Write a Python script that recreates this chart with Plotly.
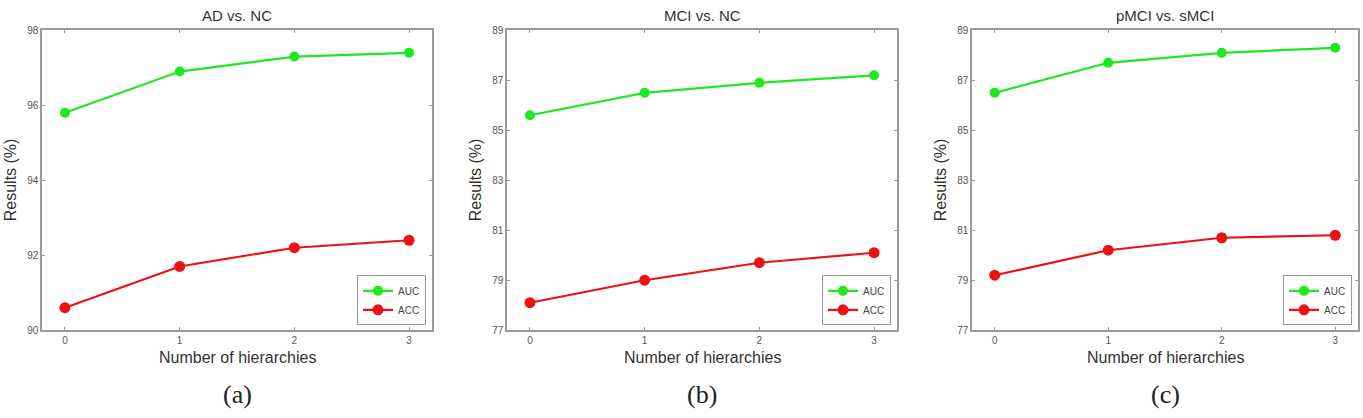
import plotly.graph_objects as go

W, H = 1363, 418

hierarchies = [0, 1, 2, 3]
titles = ["AD vs. NC", "MCI vs. NC", "pMCI vs. sMCI"]
panel_labels = ["(a)", "(b)", "(c)"]
auc_ad = [95.8, 96.9, 97.3, 97.4]
acc_ad = [90.6, 91.7, 92.2, 92.4]
auc_mci = [85.6, 86.5, 86.9, 87.2]
acc_mci = [78.1, 79.0, 79.7, 80.1]
auc_pmci = [86.5, 87.7, 88.1, 88.3]
acc_pmci = [79.2, 80.2, 80.7, 80.8]
y_ranges = [[90, 98], [77, 89], [77, 89]]
y_ticks = [[90, 92, 94, 96, 98], [77, 79, 81, 83, 85, 87, 89], [77, 79, 81, 83, 85, 87, 89]]

auc_all = [auc_ad, auc_mci, auc_pmci]
acc_all = [acc_ad, acc_mci, acc_pmci]

# pixel layout
px_left = [42, 507, 972]
px_right = [432, 897, 1358]
px_top, px_bottom = 26, 334
ytitle_x = [10, 475, 940]

GREEN = "#1ee81e"
RED = "#ee1111"
AXC = "#9a9a9a"

fig = go.Figure()
annotations = []
for i in range(3):
    sfx = "" if i == 0 else str(i + 1)
    xa, ya = "x" + sfx, "y" + sfx
    lg = "legend" + sfx
    fig.add_trace(go.Scatter(x=hierarchies, y=auc_all[i], mode="lines+markers", name="AUC",
                             line=dict(color=GREEN, width=2.2), marker=dict(size=10, color=GREEN),
                             xaxis=xa, yaxis=ya, legend=lg))
    fig.add_trace(go.Scatter(x=hierarchies, y=acc_all[i], mode="lines+markers", name="ACC",
                             line=dict(color=RED, width=2.2), marker=dict(size=11, color=RED),
                             xaxis=xa, yaxis=ya, legend=lg))
    x0, x1 = px_left[i] / W, px_right[i] / W
    y0, y1 = 1 - px_bottom / H, 1 - px_top / H
    axis_common = dict(showline=True, linecolor=AXC, linewidth=1.5, mirror="allticks",
                       ticks="inside", ticklen=3, tickcolor=AXC, showgrid=False, zeroline=False,
                       tickfont=dict(family="Liberation Sans", size=10, color="#555"))
    fig.layout["xaxis" + sfx] = dict(domain=[x0, x1], range=[-0.2, 3.2], tickvals=hierarchies,
                                     anchor=ya, **axis_common)
    fig.layout["yaxis" + sfx] = dict(domain=[y0, y1], range=y_ranges[i], tickvals=y_ticks[i],
                                     anchor=xa, **axis_common)
    fig.layout[lg] = dict(x=px_right[i] / W - 6 / W, y=y0 + 5 / H, xanchor="right", yanchor="bottom",
                          bgcolor="white", bordercolor=AXC, borderwidth=1,
                          font=dict(family="Liberation Sans", size=10, color="#444"),
                          tracegroupgap=0, itemwidth=30)
    cx = (px_left[i] + px_right[i]) / 2 / W
    annotations.append(dict(text=titles[i], x=cx, y=1 - 11 / H, xref="paper", yref="paper",
                            showarrow=False, xanchor="center", yanchor="middle",
                            font=dict(family="Liberation Sans", size=15, color="#333")))
    annotations.append(dict(text="Number of hierarchies", x=cx, y=1 - 362 / H, xref="paper", yref="paper",
                            showarrow=False, xanchor="center", yanchor="middle",
                            font=dict(family="Liberation Sans", size=16, color="#333")))
    annotations.append(dict(text="Results (%)", x=ytitle_x[i] / W, y=1 - 180 / H,
                            xref="paper", yref="paper", textangle=-90,
                            showarrow=False, xanchor="center", yanchor="middle",
                            font=dict(family="Liberation Sans", size=16, color="#333")))
    annotations.append(dict(text=panel_labels[i], x=cx, y=1 - 400 / H, xref="paper", yref="paper",
                            showarrow=False, xanchor="center", yanchor="middle",
                            font=dict(family="Liberation Serif", size=26, color="#222")))

fig.update_layout(width=W, height=H, margin=dict(l=0, r=0, t=0, b=0),
                  paper_bgcolor="white", plot_bgcolor="white",
                  annotations=annotations, showlegend=True)
fig.write_html("out.html")
